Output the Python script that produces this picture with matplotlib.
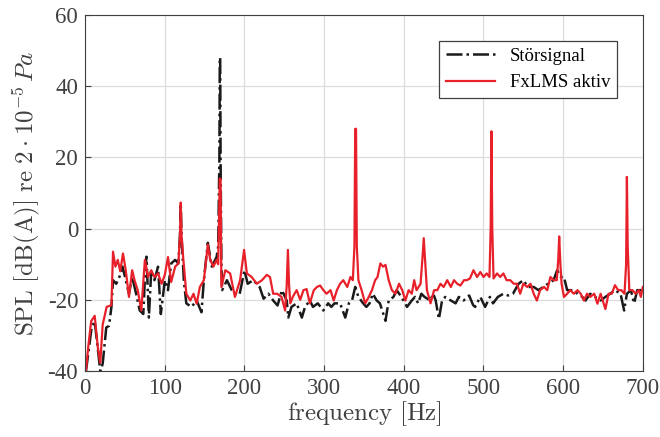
import matplotlib
matplotlib.use('Agg')
import matplotlib.pyplot as plt

# Spectrum data (frequency in Hz, SPL in dB(A))
freq_stoer = [1, 4, 8, 12, 16, 19, 22, 26.5, 30, 33, 35, 39, 43, 47, 51, 55, 59, 64, 68.5, 73, 75, 77, 80,
              83, 87, 91.5, 95, 100, 104, 108, 113, 117, 119, 120, 121, 124, 127, 133.5, 140, 146, 149, 154,
              159, 165, 167, 168.5, 169, 169.5, 170, 171, 172, 178, 184, 190, 194, 200, 204, 211, 219, 224,
              230, 236, 241.5, 247, 253, 255, 259, 265.5, 272, 276, 282, 286, 292, 299, 305, 309, 313, 320,
              326.5, 331, 335, 339, 343, 349, 353, 357, 361, 366, 370, 377, 381, 387, 391, 397, 404, 410, 414,
              418, 422, 426, 433, 437, 440, 444, 448, 452, 459, 465, 469, 475, 482, 487, 489.5, 496, 502, 508,
              512, 518, 525, 531, 537, 544, 550, 556, 563, 569, 575, 581, 588, 592.4, 597, 601, 605, 612, 618,
              624, 628, 634, 640, 647, 653, 659, 665, 672, 676.5, 680, 685, 689, 693, 700]
spl_stoer = [-40, -35, -28, -26, -34, -40, -38, -27.8, -27.3, -22, -14.5, -15.5, -13.6, -10.7, -14.5, -18.3,
             -13.6, -18.3, -23, -24, -14, -7.9, -25, -11.7, -14.5, -10.7, -24, -14.5, -17.3, -9.8, -8.8, -9.8,
             -2, 7, -2, -15, -21, -22, -20.2, -23.5, -14.5, -4, -10.7, -8, -5, 20, 48, 48, 20, -10, -17.3,
             -14.5, -17.3, -18.8, -18.3, -11.7, -15.5, -14.5, -16.4, -19.7, -18.3, -20.2, -21.6, -17.3, -20.2,
             -25, -22, -21, -25, -22, -20.2, -22, -21, -23, -21, -22, -21, -21, -25, -21, -20.2, -16.4, -19.2,
             -21, -22, -21, -18.3, -20.2, -21, -25.9, -20.2, -19.2, -17.3, -19.2, -22, -20.2, -19.2, -21,
             -18.3, -19.2, -20.2, -18.3, -20.2, -25.4, -20.2, -19.2, -20.2, -21, -19.2, -20.2, -18.8, -21.5,
             -22, -19.2, -22, -19.2, -21, -19.2, -18.3, -18.8, -18.3, -15.5, -14.5, -16.4, -16.4, -17.3,
             -16.4, -15.5, -14.5, -11.7, -13.6, -13.6, -17.3, -17.3, -18.3, -19.2, -20.2, -18.3, -19.2, -20.2,
             -19.2, -18.3, -17.3, -18.3, -23, -18.3, -17.3, -21, -17.3, -17.3]

freq_fxlms = [1, 4, 7.6, 12, 16, 19, 22, 27, 33, 35, 38, 41, 44, 47.5, 51, 55, 59, 62, 66, 70.5, 75, 79, 83,
              87, 91.5, 96, 100, 104, 108, 113, 117, 119, 120, 121, 123, 127, 132, 136, 140, 144, 149, 154,
              157, 161, 165, 167, 169, 170, 171, 176, 182, 188, 194.5, 199.5, 203, 209, 215.5, 222, 228, 232,
              236, 241, 246.5, 251, 253, 254.5, 256, 257.5, 261, 265.5, 270, 274, 278, 282, 287, 291, 295, 299,
              303, 308, 312, 316, 320, 324, 329, 333, 336, 338, 339, 340, 341, 343, 347, 351.5, 356, 360, 364,
              367, 370.5, 374, 377, 381, 385, 389.5, 394, 398, 402, 406, 410, 413, 416, 421, 423.5, 425,
              426.5, 429, 433.5, 438, 442, 446, 450, 454.5, 459, 463, 467, 471, 475.5, 479, 483, 487.4, 492,
              496, 500, 504, 507.5, 509, 510, 511, 512.6, 517, 521, 525, 529, 533.6, 538, 542, 546, 550, 555,
              559, 563, 567, 571, 576, 580, 584, 588, 592, 594, 595, 596.5, 598, 601, 605, 609, 613.4, 618,
              622, 626, 630, 634, 639, 643, 647, 653, 657, 661, 665, 669, 673, 677, 679, 680, 681, 683, 687,
              691, 695, 697.5, 700]
spl_fxlms = [-40, -33, -26, -24.5, -33.5, -37.7, -27, -22, -21.5, -6.5, -10.7, -8.8, -12, -7, -11.7, -19.2,
             -11.7, -14.5, -17.3, -23, -8.8, -13.6, -11.7, -13.6, -12.6, -15.5, -13, -8, -15, -10.7, -9.8, -2,
             7.3, -2, -8, -18.3, -20.2, -18.3, -21.1, -16.4, -14.5, -4.5, -8.8, -10.7, -8.8, -10, 14, 14,
             -16.4, -11.7, -12.6, -19.2, -14.5, -6, -12.6, -13.6, -15.5, -14.5, -13, -13.6, -18.3, -18.3,
             -19.2, -23, -16, -6, -16, -21, -19, -17.3, -20, -17.3, -17, -21, -17.3, -16.4, -16, -17.3, -18.3,
             -17.3, -20.2, -17.3, -15.5, -14.5, -16.4, -13.6, -14.5, -5, 28, 28, -5, -14.5, -17.3, -21, -19.2,
             -17.3, -14.5, -13.6, -9.8, -10.7, -10.2, -14.5, -17.3, -18.3, -15.5, -17.3, -20.2, -17.3, -18.3,
             -14.5, -17.3, -15.5, -8, -2.7, -8, -17.3, -21, -17.3, -17.3, -15.5, -16.4, -14.5, -16.4, -14.5,
             -15.5, -16, -14.5, -14.5, -14, -11.7, -13.6, -12.2, -13.6, -12.6, -13.6, 0, 27.3, 0, -14, -12.6,
             -13.6, -12.6, -14.5, -14.5, -15.5, -15.5, -18.3, -15.5, -16.4, -15.5, -18.3, -20.2, -17.3, -16.4,
             -17.3, -13.6, -14.5, -14.5, -8, -2.2, -10, -15.5, -19.2, -18.3, -17.3, -18.3, -17.3, -18.3,
             -20.2, -18.3, -19.2, -18.3, -21.1, -18.3, -22.6, -18.3, -18.3, -15.9, -17.3, -17.3, -18.3, -10,
             14.5, -5, -17.3, -17.3, -18.3, -17.3, -19.2, -16.4]

plt.rcParams['font.family'] = 'Liberation Serif'
plt.rcParams['mathtext.fontset'] = 'cm'
plt.rcParams['axes.unicode_minus'] = False

fig = plt.figure(figsize=(6.6, 4.37), dpi=100)
ax = fig.add_axes([0.129, 0.151, 0.845, 0.815])

ax.plot(freq_stoer, spl_stoer, color='#1a1a1a', linestyle='-.', linewidth=1.8, label='Störsignal')
ax.plot(freq_fxlms, spl_fxlms, color='#e8202a', linestyle='-', linewidth=1.6, label='FxLMS aktiv')

ax.set_xlim(0, 700)
ax.set_ylim(-40, 60)
ax.set_xticks(range(0, 701, 100))
ax.set_yticks(range(-40, 61, 20))
ax.grid(True, color='#dcdcdc', linewidth=0.9)
ax.set_axisbelow(True)
ax.tick_params(direction='in', labelsize=16.5, colors='#404040', length=4, pad=5)
for sp in ax.spines.values():
    sp.set_color('#404040')

ax.set_xlabel(r'$\mathrm{frequency\ [Hz]}$', fontsize=18, color='#404040', labelpad=0)
ax.set_ylabel(r'$\mathrm{SPL\ [dB(A)]\ re\ }2\cdot10^{-5}\,Pa$', fontsize=18, color='#404040', labelpad=4)

leg = ax.legend(loc='upper right', fontsize=13.5, fancybox=False, edgecolor='#404040',
                framealpha=1, borderaxespad=1.4, handlelength=2.6, borderpad=0.35)
leg.get_frame().set_linewidth(0.9)

fig.savefig('out.png', dpi=100)
